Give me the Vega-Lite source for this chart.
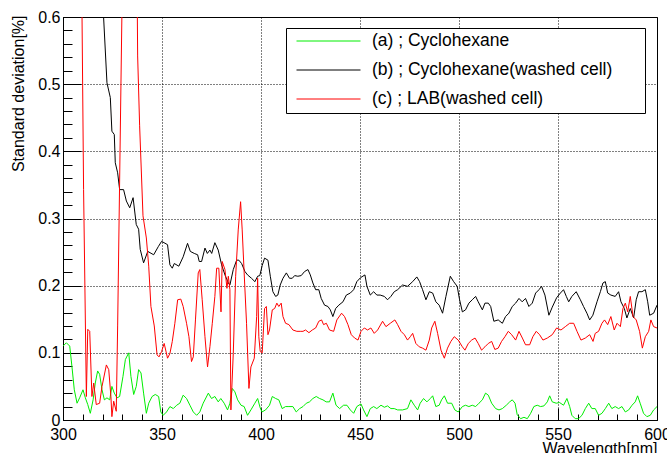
{
"$schema": "https://vega.github.io/schema/vega-lite/v6.json",
"width": 594, "height": 403,
"autosize": {"type": "none"},
"padding": {"left": 63, "top": 17, "right": 10, "bottom": 33},
"background": "white",
"config": {
  "view": {"stroke": "black", "strokeWidth": 1},
  "font": "Liberation Sans",
  "axis": {"domainColor": "black", "tickColor": "black", "labelColor": "black", "titleColor": "black", "labelFont": "Liberation Sans", "titleFont": "Liberation Sans", "titleFontWeight": "normal", "labelFontSize": 16, "gridColor": "black", "gridDash": [1, 2], "labelOverlap": false, "labelFlush": false}
},
"datasets": {
"a": [{"x":300,"y":0.11},{"x":301.7,"y":0.115},{"x":303.4,"y":0.11},{"x":304.5,"y":0.08},{"x":305.7,"y":0.045},{"x":307.1,"y":0.025},{"x":308.4,"y":0.033},{"x":310.1,"y":0.045},{"x":311.3,"y":0.033},{"x":312.5,"y":0.023},{"x":313.8,"y":0.01},{"x":315.2,"y":0.03},{"x":316.3,"y":0.055},{"x":317.5,"y":0.073},{"x":318.5,"y":0.068},{"x":319.7,"y":0.045},{"x":320.9,"y":0.03},{"x":322.2,"y":0.033},{"x":323.6,"y":0.03},{"x":324.7,"y":0.05},{"x":325.9,"y":0.04},{"x":327.3,"y":0.033},{"x":328.6,"y":0.035},{"x":330.3,"y":0.065},{"x":331.5,"y":0.09},{"x":333.2,"y":0.1},{"x":334.3,"y":0.065},{"x":335.7,"y":0.038},{"x":337,"y":0.05},{"x":338.2,"y":0.075},{"x":339.4,"y":0.07},{"x":340.7,"y":0.04},{"x":342.1,"y":0.01},{"x":343.3,"y":0.025},{"x":345,"y":0.035},{"x":346.6,"y":0.038},{"x":348.3,"y":0.035},{"x":349.4,"y":0.012},{"x":350.6,"y":0.007},{"x":352.3,"y":0.012},{"x":354,"y":0.02},{"x":355.7,"y":0.017},{"x":357.4,"y":0.022},{"x":359,"y":0.025},{"x":360.7,"y":0.037},{"x":362.4,"y":0.032},{"x":364.1,"y":0.022},{"x":365.8,"y":0.012},{"x":367.5,"y":0.007},{"x":369.1,"y":0.012},{"x":370.8,"y":0.025},{"x":373.4,"y":0.04},{"x":375,"y":0.032},{"x":376.7,"y":0.035},{"x":378.4,"y":0.027},{"x":379.7,"y":0.032},{"x":381.4,"y":0.025},{"x":383.1,"y":0.015},{"x":384.3,"y":0.025},{"x":385.5,"y":0.047},{"x":386.8,"y":0.042},{"x":388.2,"y":0.03},{"x":389.9,"y":0.022},{"x":391.5,"y":0.02},{"x":393.2,"y":0.007},{"x":394.9,"y":0.015},{"x":396.9,"y":0.025},{"x":398.3,"y":0.032},{"x":399.6,"y":0.018},{"x":400.5,"y":0.012},{"x":402.3,"y":0.015},{"x":404.3,"y":0.022},{"x":405.7,"y":0.035},{"x":407.4,"y":0.032},{"x":409,"y":0.03},{"x":410.7,"y":0.017},{"x":412.4,"y":0.02},{"x":414.1,"y":0.02},{"x":416.1,"y":0.02},{"x":417.8,"y":0.012},{"x":419.5,"y":0.017},{"x":421.2,"y":0.02},{"x":422.9,"y":0.025},{"x":424.5,"y":0.027},{"x":426.2,"y":0.032},{"x":427.9,"y":0.035},{"x":429.6,"y":0.032},{"x":431.3,"y":0.03},{"x":432.9,"y":0.027},{"x":434.6,"y":0.027},{"x":436.3,"y":0.04},{"x":437.9,"y":0.022},{"x":439.7,"y":0.017},{"x":441.7,"y":0.022},{"x":443.4,"y":0.022},{"x":445.1,"y":0.015},{"x":446.8,"y":0.01},{"x":448.4,"y":0.02},{"x":450.5,"y":0.024},{"x":451.8,"y":0.015},{"x":453.5,"y":0.005},{"x":455.2,"y":0.017},{"x":456.9,"y":0.02},{"x":458.5,"y":0.017},{"x":460.6,"y":0.022},{"x":462.3,"y":0.019},{"x":463.9,"y":0.021},{"x":465.6,"y":0.017},{"x":467.3,"y":0.017},{"x":469,"y":0.015},{"x":471.5,"y":0.015},{"x":474,"y":0.017},{"x":475.7,"y":0.03},{"x":477.4,"y":0.022},{"x":479.1,"y":0.015},{"x":480.4,"y":0.025},{"x":482.1,"y":0.032},{"x":483.8,"y":0.027},{"x":485.5,"y":0.032},{"x":486.7,"y":0.036},{"x":488.3,"y":0.02},{"x":490,"y":0.022},{"x":491.2,"y":0.03},{"x":492.6,"y":0.036},{"x":494.2,"y":0.025},{"x":496.3,"y":0.025},{"x":497.9,"y":0.015},{"x":499.6,"y":0.012},{"x":501.7,"y":0.02},{"x":503.3,"y":0.022},{"x":505,"y":0.02},{"x":506.7,"y":0.022},{"x":508.4,"y":0.02},{"x":510.1,"y":0.025},{"x":511.8,"y":0.03},{"x":513.4,"y":0.04},{"x":514.8,"y":0.037},{"x":516.5,"y":0.025},{"x":518.5,"y":0.017},{"x":520.2,"y":0.015},{"x":521.9,"y":0.017},{"x":523.9,"y":0.022},{"x":525.6,"y":0.027},{"x":526.9,"y":0.03},{"x":528.3,"y":0.025},{"x":529.4,"y":0.008},{"x":531.1,"y":0.002},{"x":532.8,"y":0.004},{"x":534.5,"y":0.002},{"x":536.2,"y":0.01},{"x":537.8,"y":0.02},{"x":539.5,"y":0.022},{"x":541.2,"y":0.02},{"x":542.9,"y":0.021},{"x":544.6,"y":0.027},{"x":545.8,"y":0.036},{"x":547.1,"y":0.027},{"x":549.1,"y":0.025},{"x":550.8,"y":0.026},{"x":552.8,"y":0.022},{"x":554.5,"y":0.032},{"x":555.9,"y":0.02},{"x":557,"y":0.007},{"x":558.7,"y":0.002},{"x":560.4,"y":0.002},{"x":562.1,"y":0.007},{"x":563.8,"y":0.017},{"x":565.5,"y":0.025},{"x":567.1,"y":0.017},{"x":568.8,"y":0.017},{"x":570.5,"y":0.007},{"x":572.2,"y":0.01},{"x":573.9,"y":0.017},{"x":575.6,"y":0.025},{"x":577.2,"y":0.017},{"x":578.9,"y":0.02},{"x":580.6,"y":0.017},{"x":582.3,"y":0.02},{"x":584,"y":0.012},{"x":585.7,"y":0.015},{"x":587.4,"y":0.022},{"x":589,"y":0.027},{"x":590.2,"y":0.036},{"x":591.5,"y":0.025},{"x":593.2,"y":0.01},{"x":594.9,"y":0.005},{"x":596.6,"y":0.007},{"x":598.3,"y":0.015},{"x":600,"y":0.02}],
"b": [{"x":300,"y":1.4},{"x":310,"y":1.0},{"x":319,"y":0.68},{"x":320.5,"y":0.6},{"x":322.2,"y":0.502},{"x":323.9,"y":0.48},{"x":324.7,"y":0.43},{"x":325.9,"y":0.425},{"x":326.4,"y":0.383},{"x":327.6,"y":0.368},{"x":328.6,"y":0.343},{"x":330.6,"y":0.343},{"x":332,"y":0.326},{"x":333.7,"y":0.316},{"x":335.4,"y":0.331},{"x":337,"y":0.291},{"x":338.2,"y":0.284},{"x":339,"y":0.254},{"x":340.7,"y":0.234},{"x":342.8,"y":0.251},{"x":345.8,"y":0.246},{"x":348.1,"y":0.258},{"x":349.8,"y":0.266},{"x":352.8,"y":0.261},{"x":354,"y":0.231},{"x":355.2,"y":0.226},{"x":356.2,"y":0.233},{"x":358.5,"y":0.229},{"x":360.7,"y":0.243},{"x":362.9,"y":0.263},{"x":364.3,"y":0.251},{"x":366.3,"y":0.248},{"x":368,"y":0.246},{"x":368.8,"y":0.236},{"x":370,"y":0.236},{"x":371.7,"y":0.256},{"x":372.9,"y":0.248},{"x":374.2,"y":0.253},{"x":375.1,"y":0.248},{"x":376.7,"y":0.264},{"x":378.4,"y":0.253},{"x":380.1,"y":0.231},{"x":381.8,"y":0.216},{"x":383.5,"y":0.204},{"x":384.3,"y":0.201},{"x":386,"y":0.224},{"x":387.7,"y":0.238},{"x":388.8,"y":0.238},{"x":390.2,"y":0.233},{"x":391.9,"y":0.221},{"x":393.2,"y":0.216},{"x":395.2,"y":0.211},{"x":396.9,"y":0.206},{"x":398.3,"y":0.214},{"x":399.4,"y":0.215},{"x":400.6,"y":0.23},{"x":401.8,"y":0.241},{"x":403.5,"y":0.238},{"x":404.7,"y":0.214},{"x":406,"y":0.191},{"x":407.4,"y":0.184},{"x":408.5,"y":0.186},{"x":409.7,"y":0.201},{"x":411.1,"y":0.211},{"x":412.8,"y":0.219},{"x":414.4,"y":0.211},{"x":415.8,"y":0.211},{"x":417,"y":0.215},{"x":418.6,"y":0.214},{"x":420.3,"y":0.215},{"x":422,"y":0.221},{"x":423.7,"y":0.224},{"x":424.9,"y":0.216},{"x":426.2,"y":0.204},{"x":427.6,"y":0.194},{"x":429.2,"y":0.194},{"x":430.4,"y":0.181},{"x":432.1,"y":0.171},{"x":433.8,"y":0.169},{"x":435,"y":0.164},{"x":436.3,"y":0.154},{"x":437.7,"y":0.166},{"x":439.3,"y":0.171},{"x":441.4,"y":0.176},{"x":443.1,"y":0.186},{"x":445.1,"y":0.189},{"x":446.8,"y":0.194},{"x":448.4,"y":0.206},{"x":450.3,"y":0.212},{"x":452.5,"y":0.216},{"x":453.5,"y":0.199},{"x":455.2,"y":0.186},{"x":456.9,"y":0.191},{"x":458.5,"y":0.186},{"x":460.2,"y":0.186},{"x":462.3,"y":0.184},{"x":463.9,"y":0.179},{"x":465.6,"y":0.184},{"x":467.3,"y":0.191},{"x":469,"y":0.194},{"x":471.5,"y":0.201},{"x":474,"y":0.199},{"x":476.6,"y":0.206},{"x":478.7,"y":0.213},{"x":480.1,"y":0.206},{"x":481.6,"y":0.194},{"x":483.3,"y":0.179},{"x":485,"y":0.191},{"x":486.7,"y":0.189},{"x":488.3,"y":0.176},{"x":490,"y":0.171},{"x":491.7,"y":0.159},{"x":493.4,"y":0.184},{"x":495.6,"y":0.214},{"x":497.3,"y":0.206},{"x":499.1,"y":0.199},{"x":500.3,"y":0.179},{"x":501.7,"y":0.161},{"x":503.3,"y":0.164},{"x":505,"y":0.174},{"x":506.7,"y":0.179},{"x":508.4,"y":0.184},{"x":509.7,"y":0.176},{"x":511.8,"y":0.164},{"x":513.1,"y":0.174},{"x":514.8,"y":0.174},{"x":516,"y":0.169},{"x":517.6,"y":0.147},{"x":519.8,"y":0.149},{"x":521.9,"y":0.144},{"x":523.5,"y":0.154},{"x":525.2,"y":0.159},{"x":526.9,"y":0.169},{"x":528.6,"y":0.174},{"x":530.3,"y":0.181},{"x":531.9,"y":0.176},{"x":533.6,"y":0.181},{"x":535.3,"y":0.169},{"x":537,"y":0.174},{"x":538.7,"y":0.189},{"x":540.4,"y":0.194},{"x":541.7,"y":0.199},{"x":543.4,"y":0.186},{"x":545.4,"y":0.156},{"x":547.1,"y":0.168},{"x":549.3,"y":0.182},{"x":551.2,"y":0.189},{"x":552.8,"y":0.194},{"x":554.2,"y":0.184},{"x":555.4,"y":0.176},{"x":557,"y":0.184},{"x":559.2,"y":0.191},{"x":561.3,"y":0.179},{"x":562.9,"y":0.169},{"x":564.6,"y":0.159},{"x":566,"y":0.149},{"x":567.6,"y":0.156},{"x":569.7,"y":0.176},{"x":571.4,"y":0.191},{"x":572.7,"y":0.204},{"x":573.9,"y":0.206},{"x":575.1,"y":0.189},{"x":576.7,"y":0.186},{"x":578.9,"y":0.184},{"x":580.6,"y":0.191},{"x":581.8,"y":0.176},{"x":583.5,"y":0.166},{"x":584.8,"y":0.152},{"x":586.5,"y":0.166},{"x":588.2,"y":0.152},{"x":589.5,"y":0.179},{"x":590.7,"y":0.191},{"x":592.4,"y":0.191},{"x":594.1,"y":0.194},{"x":595.3,"y":0.176},{"x":596.3,"y":0.156},{"x":598.3,"y":0.159},{"x":600,"y":0.171}],
"c": [{"x":300,"y":1.3},{"x":308,"y":1.3},{"x":309,"y":0.8},{"x":310.4,"y":0.343},{"x":311.8,"y":0.035},{"x":312.5,"y":0.135},{"x":313.5,"y":0.132},{"x":314.6,"y":0.035},{"x":315.5,"y":0.055},{"x":316.8,"y":0.023},{"x":318.5,"y":0.025},{"x":319.7,"y":0.05},{"x":321.9,"y":0.082},{"x":323.1,"y":0.075},{"x":324.2,"y":0.035},{"x":324.7,"y":0.005},{"x":325.6,"y":0.028},{"x":326.9,"y":0.013},{"x":327.6,"y":0.14},{"x":330.2,"y":0.7},{"x":331.5,"y":1.3},{"x":335.5,"y":1.3},{"x":336.5,"y":1.0},{"x":337.7,"y":0.542},{"x":338.7,"y":0.438},{"x":340.4,"y":0.304},{"x":342.1,"y":0.271},{"x":343.3,"y":0.229},{"x":344.4,"y":0.169},{"x":346.1,"y":0.14},{"x":347.5,"y":0.097},{"x":348.5,"y":0.094},{"x":349.8,"y":0.102},{"x":351.1,"y":0.114},{"x":352.8,"y":0.092},{"x":354,"y":0.099},{"x":355.2,"y":0.117},{"x":356.5,"y":0.144},{"x":357.9,"y":0.179},{"x":359.5,"y":0.18},{"x":360.7,"y":0.169},{"x":362.4,"y":0.144},{"x":363.6,"y":0.124},{"x":364.9,"y":0.087},{"x":365.8,"y":0.094},{"x":366.9,"y":0.149},{"x":368.3,"y":0.219},{"x":369.1,"y":0.224},{"x":370.3,"y":0.179},{"x":371.7,"y":0.124},{"x":373,"y":0.079},{"x":374.2,"y":0.109},{"x":375.4,"y":0.144},{"x":376.7,"y":0.184},{"x":377.6,"y":0.226},{"x":378.7,"y":0.226},{"x":379.8,"y":0.161},{"x":380.4,"y":0.236},{"x":381.8,"y":0.224},{"x":382.8,"y":0.196},{"x":383.5,"y":0.214},{"x":384.3,"y":0.194},{"x":384.8,"y":0.015},{"x":386,"y":0.099},{"x":387.2,"y":0.214},{"x":388.5,"y":0.283},{"x":389.7,"y":0.325},{"x":390.5,"y":0.283},{"x":391.5,"y":0.219},{"x":392.7,"y":0.144},{"x":393.9,"y":0.047},{"x":394.9,"y":0.079},{"x":396.6,"y":0.092},{"x":397.8,"y":0.154},{"x":398.3,"y":0.211},{"x":398.9,"y":0.124},{"x":399.6,"y":0.102},{"x":400.6,"y":0.1},{"x":401.8,"y":0.166},{"x":402.7,"y":0.169},{"x":403.5,"y":0.127},{"x":404.3,"y":0.134},{"x":405.7,"y":0.164},{"x":406.9,"y":0.166},{"x":408,"y":0.174},{"x":409,"y":0.169},{"x":410.2,"y":0.174},{"x":411.1,"y":0.154},{"x":412.4,"y":0.144},{"x":414.1,"y":0.142},{"x":416.1,"y":0.134},{"x":418.1,"y":0.132},{"x":419.8,"y":0.132},{"x":421.2,"y":0.132},{"x":422.5,"y":0.134},{"x":424.2,"y":0.13},{"x":425.9,"y":0.134},{"x":427.6,"y":0.137},{"x":429.2,"y":0.147},{"x":430.6,"y":0.149},{"x":431.6,"y":0.142},{"x":433,"y":0.144},{"x":434.6,"y":0.134},{"x":436.7,"y":0.132},{"x":438.3,"y":0.149},{"x":440.7,"y":0.159},{"x":442.2,"y":0.154},{"x":443.9,"y":0.142},{"x":445.6,"y":0.127},{"x":447.3,"y":0.122},{"x":449,"y":0.119},{"x":450.5,"y":0.132},{"x":452.2,"y":0.137},{"x":453.8,"y":0.134},{"x":455.5,"y":0.137},{"x":457.2,"y":0.129},{"x":458.9,"y":0.134},{"x":461.4,"y":0.147},{"x":463.1,"y":0.139},{"x":465.3,"y":0.144},{"x":467.6,"y":0.149},{"x":469,"y":0.142},{"x":470.7,"y":0.132},{"x":472.4,"y":0.127},{"x":474,"y":0.119},{"x":475.4,"y":0.124},{"x":476.6,"y":0.129},{"x":478.2,"y":0.114},{"x":479.9,"y":0.109},{"x":481.6,"y":0.107},{"x":483.3,"y":0.104},{"x":485,"y":0.119},{"x":486.2,"y":0.137},{"x":487.8,"y":0.147},{"x":489.2,"y":0.129},{"x":490.9,"y":0.104},{"x":492.6,"y":0.092},{"x":494.2,"y":0.107},{"x":495.9,"y":0.117},{"x":497.6,"y":0.124},{"x":499.6,"y":0.119},{"x":501.7,"y":0.109},{"x":503,"y":0.104},{"x":504.7,"y":0.114},{"x":506.4,"y":0.119},{"x":508.1,"y":0.122},{"x":509.7,"y":0.114},{"x":511.4,"y":0.104},{"x":513.1,"y":0.109},{"x":514.8,"y":0.114},{"x":516.5,"y":0.117},{"x":518.1,"y":0.105},{"x":519.8,"y":0.107},{"x":521.5,"y":0.117},{"x":523.2,"y":0.124},{"x":524.9,"y":0.132},{"x":526.6,"y":0.127},{"x":528.6,"y":0.119},{"x":530.3,"y":0.132},{"x":532,"y":0.122},{"x":533.6,"y":0.112},{"x":535.7,"y":0.112},{"x":537.3,"y":0.124},{"x":539,"y":0.132},{"x":540.7,"y":0.127},{"x":542.4,"y":0.119},{"x":544.6,"y":0.122},{"x":547.1,"y":0.127},{"x":549.3,"y":0.137},{"x":551.5,"y":0.134},{"x":553.7,"y":0.139},{"x":555.9,"y":0.144},{"x":557.9,"y":0.144},{"x":559.6,"y":0.132},{"x":561.6,"y":0.119},{"x":563.8,"y":0.122},{"x":566,"y":0.127},{"x":567.7,"y":0.117},{"x":568.8,"y":0.129},{"x":570.5,"y":0.132},{"x":572.2,"y":0.144},{"x":573.5,"y":0.149},{"x":575.1,"y":0.142},{"x":576.7,"y":0.154},{"x":578.4,"y":0.134},{"x":579.8,"y":0.144},{"x":581.5,"y":0.139},{"x":582.8,"y":0.166},{"x":584,"y":0.174},{"x":585.2,"y":0.161},{"x":586.5,"y":0.184},{"x":587.9,"y":0.154},{"x":589.5,"y":0.149},{"x":591.2,"y":0.132},{"x":592.6,"y":0.107},{"x":594.1,"y":0.124},{"x":595.8,"y":0.132},{"x":596.9,"y":0.149},{"x":598.3,"y":0.139},{"x":600,"y":0.137}]
},
"encoding": {
  "x": {"field": "x", "type": "quantitative", "scale": {"domain": [300, 600], "nice": false, "zero": false},
    "axis": {"values": [300,310,320,330,340,350,360,370,380,390,400,410,420,430,440,450,460,470,480,490,500,510,520,530,540,550,560,570,580,590,600],
      "labelExpr": "datum.value % 50 === 0 ? datum.label : ''",
      "tickSize": {"condition": {"test": "datum.value % 50 === 0", "value": -12}, "value": -6},
      "grid": true,
      "gridOpacity": {"condition": {"test": "datum.value % 50 === 0", "value": 1}, "value": 0},
      "labelPadding": 18,
      "title": "Wavelength[nm]", "titleFontSize": 16, "titleX": 594, "titleY": 20, "titleAlign": "right", "titleBaseline": "top", "titleAnchor": "end"}},
  "y": {"field": "y", "type": "quantitative", "scale": {"domain": [0, 0.6], "nice": false, "zero": false},
    "axis": {"values": [0,0.02,0.04,0.06,0.08,0.1,0.12,0.14,0.16,0.18,0.2,0.22,0.24,0.26,0.28,0.3,0.32,0.34,0.36,0.38,0.4,0.42,0.44,0.46,0.48,0.5,0.52,0.54,0.56,0.58,0.6],
      "labelExpr": "abs(datum.value*10 - round(datum.value*10)) < 0.001 ? format(datum.value, '.1~f') : ''",
      "tickSize": {"condition": {"test": "abs(datum.value*10 - round(datum.value*10)) < 0.001", "value": -18}, "value": -9},
      "grid": true,
      "gridOpacity": {"condition": {"test": "abs(datum.value*10 - round(datum.value*10)) < 0.001", "value": 1}, "value": 0},
      "labelPadding": 21,
      "title": "Standard deviation[%]", "titleFontSize": 16, "titleX": -45, "titleY": -2, "titleAngle": 270, "titleAlign": "right", "titleBaseline": "middle", "titleAnchor": "end"}}
},
"layer": [
  {"data": {"name": "a"}, "mark": {"type": "line", "strokeWidth": 1, "clip": true},
   "encoding": {"color": {"datum": "(a) ; Cyclohexane", "type": "nominal",
     "scale": {"domain": ["(a) ; Cyclohexane", "(b) ; Cyclohexane(washed cell)", "(c) ; LAB(washed cell)"], "range": ["#00ee00", "#000000", "#ff0000"]},
     "legend": {"orient": "none", "legendX": 223, "legendY": 11, "symbolType": "stroke", "symbolSize": 4096, "symbolStrokeWidth": 1, "clipHeight": 16, "rowPadding": 11, "labelOffset": 11, "symbolOffset": 5, "padding": 5, "labelFontSize": 17.5, "labelFont": "Liberation Sans", "labelColor": "black", "labelLimit": 400, "strokeColor": "black", "fillColor": "white", "title": "\u00a0", "titleFontSize": 11, "titleOrient": "right", "titlePadding": 28}}}},
  {"data": {"name": "b"}, "mark": {"type": "line", "strokeWidth": 1, "clip": true},
   "encoding": {"color": {"datum": "(b) ; Cyclohexane(washed cell)", "type": "nominal"}}},
  {"data": {"name": "c"}, "mark": {"type": "line", "strokeWidth": 1, "clip": true},
   "encoding": {"color": {"datum": "(c) ; LAB(washed cell)", "type": "nominal"}}}
]
}
